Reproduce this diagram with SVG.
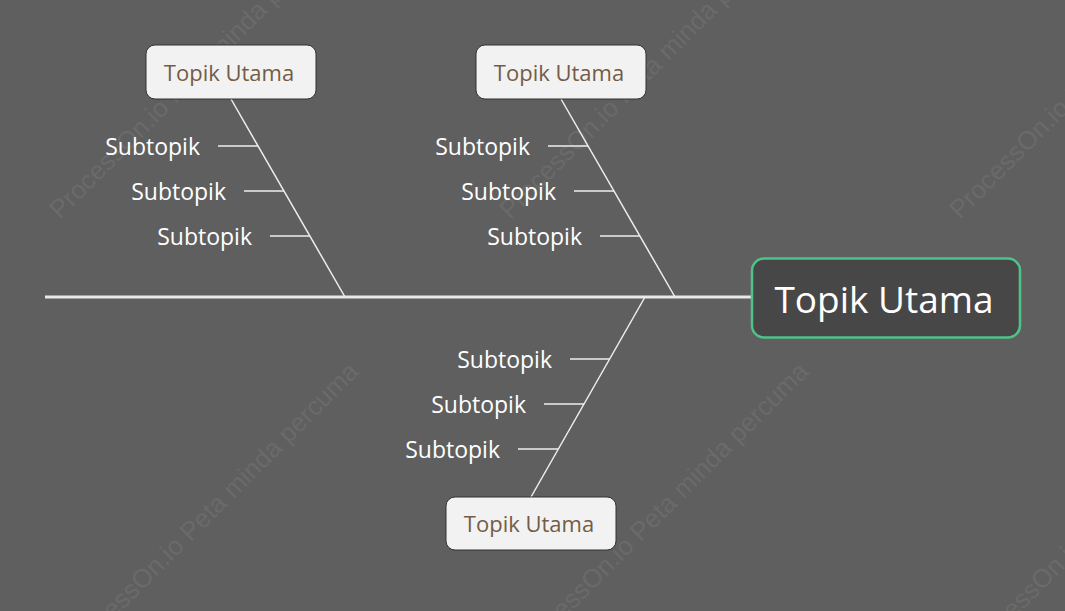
<svg xmlns="http://www.w3.org/2000/svg" width="1065" height="611" viewBox="0 0 1065 611">
<style>
.wm{font-family:"Liberation Sans",Arial,sans-serif;font-size:26px;fill:#6a6a6a}
.bone{stroke:#eeeeee;stroke-width:1.5;fill:none}
.sub{font-family:"Open Sans","Noto Sans",sans-serif;font-size:23px;fill:#ffffff;text-anchor:end}
.topic rect{fill:#f2f2f2;stroke:#333333;stroke-width:1}
.topic text{font-family:"Open Sans","Noto Sans",sans-serif;font-size:22px;fill:#735c46;text-anchor:middle}
</style>
<rect x="0" y="0" width="1065" height="611" fill="#5f5f5f"/>
<g id="watermark">
<text class="wm" transform="translate(60,220) rotate(-45)">ProcessOn.io Peta minda percuma</text>
<text class="wm" transform="translate(510,220) rotate(-45)">ProcessOn.io Peta minda percuma</text>
<text class="wm" transform="translate(960,220) rotate(-45)">ProcessOn.io Peta minda percuma</text>
<text class="wm" transform="translate(75,658) rotate(-45)">ProcessOn.io Peta minda percuma</text>
<text class="wm" transform="translate(525,658) rotate(-45)">ProcessOn.io Peta minda percuma</text>
<text class="wm" transform="translate(975,658) rotate(-45)">ProcessOn.io Peta minda percuma</text>
</g>
<g id="connectors">
<line x1="45" y1="297" x2="752" y2="297" stroke="#e8e8e8" stroke-width="3"/>
<line class="bone" x1="231" y1="99" x2="345" y2="297"/>
<line class="bone" x1="561" y1="99" x2="675" y2="297"/>
<line class="bone" x1="645" y1="297" x2="531" y2="497"/>
<line class="bone" x1="218" y1="146" x2="258" y2="146"/>
<line class="bone" x1="244" y1="191" x2="284" y2="191"/>
<line class="bone" x1="270" y1="236" x2="310" y2="236"/>
<line class="bone" x1="548" y1="146" x2="588" y2="146"/>
<line class="bone" x1="574" y1="191" x2="614" y2="191"/>
<line class="bone" x1="600" y1="236" x2="640" y2="236"/>
<line class="bone" x1="570" y1="359" x2="610" y2="359"/>
<line class="bone" x1="544" y1="404" x2="584" y2="404"/>
<line class="bone" x1="518" y1="449" x2="558" y2="449"/>
</g>
<g id="subtopics">
<text class="sub" x="200" y="155">Subtopik</text>
<text class="sub" x="226" y="200">Subtopik</text>
<text class="sub" x="252" y="245">Subtopik</text>
<text class="sub" x="530" y="155">Subtopik</text>
<text class="sub" x="556" y="200">Subtopik</text>
<text class="sub" x="582" y="245">Subtopik</text>
<text class="sub" x="552" y="368">Subtopik</text>
<text class="sub" x="526" y="413">Subtopik</text>
<text class="sub" x="500" y="458">Subtopik</text>
</g>
<g id="main-topic">
<rect x="752" y="258.5" width="268" height="79" rx="12" fill="#474747" stroke="#4fc28a" stroke-width="2.5"/>
<text x="884" y="313" font-family="'Open Sans','Noto Sans',sans-serif" font-size="37" fill="#ffffff" text-anchor="middle">Topik Utama</text>
</g>
<g id="topic-1" class="topic">
<rect x="146" y="45" width="170" height="54" rx="9"/>
<text x="229" y="81">Topik Utama</text>
</g>
<g id="topic-2" class="topic">
<rect x="476" y="45" width="170" height="54" rx="9"/>
<text x="559" y="81">Topik Utama</text>
</g>
<g id="topic-3" class="topic">
<rect x="446" y="497" width="170" height="53" rx="9"/>
<text x="529" y="532">Topik Utama</text>
</g>
</svg>
